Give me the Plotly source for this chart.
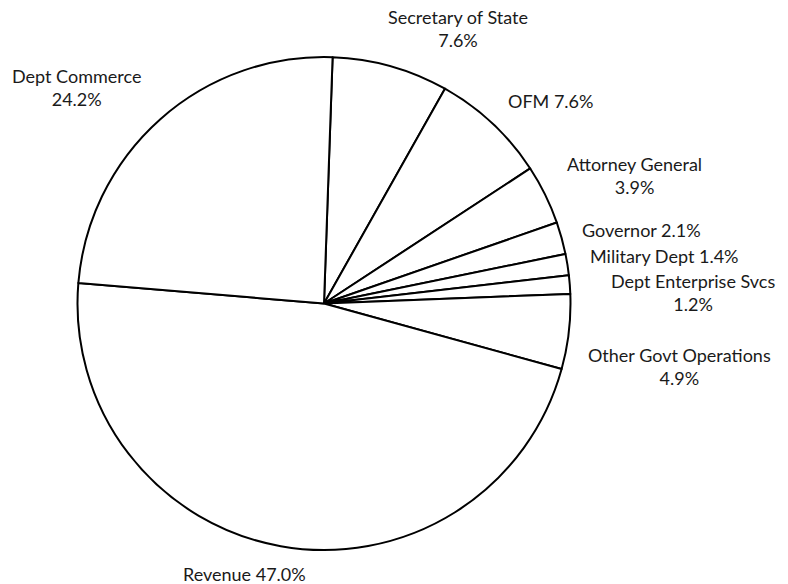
import math
import plotly.graph_objects as go

# Share of spending by agency (percent)
agencies = [
    "Secretary of State", "OFM", "Attorney General", "Governor",
    "Military Dept", "Dept Enterprise Svcs", "Other Govt Operations",
    "Revenue", "Dept Commerce",
]
shares = [7.6, 7.6, 3.9, 2.1, 1.4, 1.2, 4.9, 47.0, 24.2]
# whether the percentage goes on its own line under the agency name
wrap_label = [True, False, True, False, False, True, True, False, True]

# label nudges in pixels (right, down) from the rim point at each slice's middle
label_nudge = [
    (67, -38), (58, -22), (89, -19), (80, -8), (97, -9),
    (123, 8), (111, 35), (-36, 28), (-84, -32),
]

W, H = 788, 584
cx, cy, r = 324, 303.5, 246.5
start_deg = 2

label_text = [
    f"{name}{'<br>' if wrap else ' '}{share:.1f}%"
    for name, share, wrap in zip(agencies, shares, wrap_label)
]

fig = go.Figure(
    go.Pie(
        labels=agencies,
        values=shares,
        textinfo="none",
        sort=False,
        direction="clockwise",
        rotation=start_deg,
        marker=dict(colors=["white"] * len(shares), line=dict(color="black", width=2)),
        domain=dict(
            x=[(cx - r) / W, (cx + r) / W],
            y=[(H - cy - r) / H, (H - cy + r) / H],
        ),
        showlegend=False,
        hoverinfo="label+value",
    )
)

# Outside labels, tied to the middle angle of each slice
total = sum(shares)
acc = 0.0
for text, share, (dx, dy) in zip(label_text, shares, label_nudge):
    mid = math.radians(start_deg + 360.0 * (acc + share / 2) / total)
    acc += share
    px = cx + r * math.sin(mid)
    py = cy - r * math.cos(mid)
    fig.add_annotation(
        x=px / W,
        y=1 - py / H,
        xref="paper",
        yref="paper",
        xshift=dx,
        yshift=-dy,
        text=text,
        showarrow=False,
        xanchor="center",
        yanchor="middle",
        align="center",
        font=dict(family="Lato", size=18, color="#1a1a1a"),
    )

fig.update_layout(
    width=W,
    height=H,
    margin=dict(l=0, r=0, t=0, b=0),
    paper_bgcolor="white",
    plot_bgcolor="white",
)

fig.write_html("out.html")
